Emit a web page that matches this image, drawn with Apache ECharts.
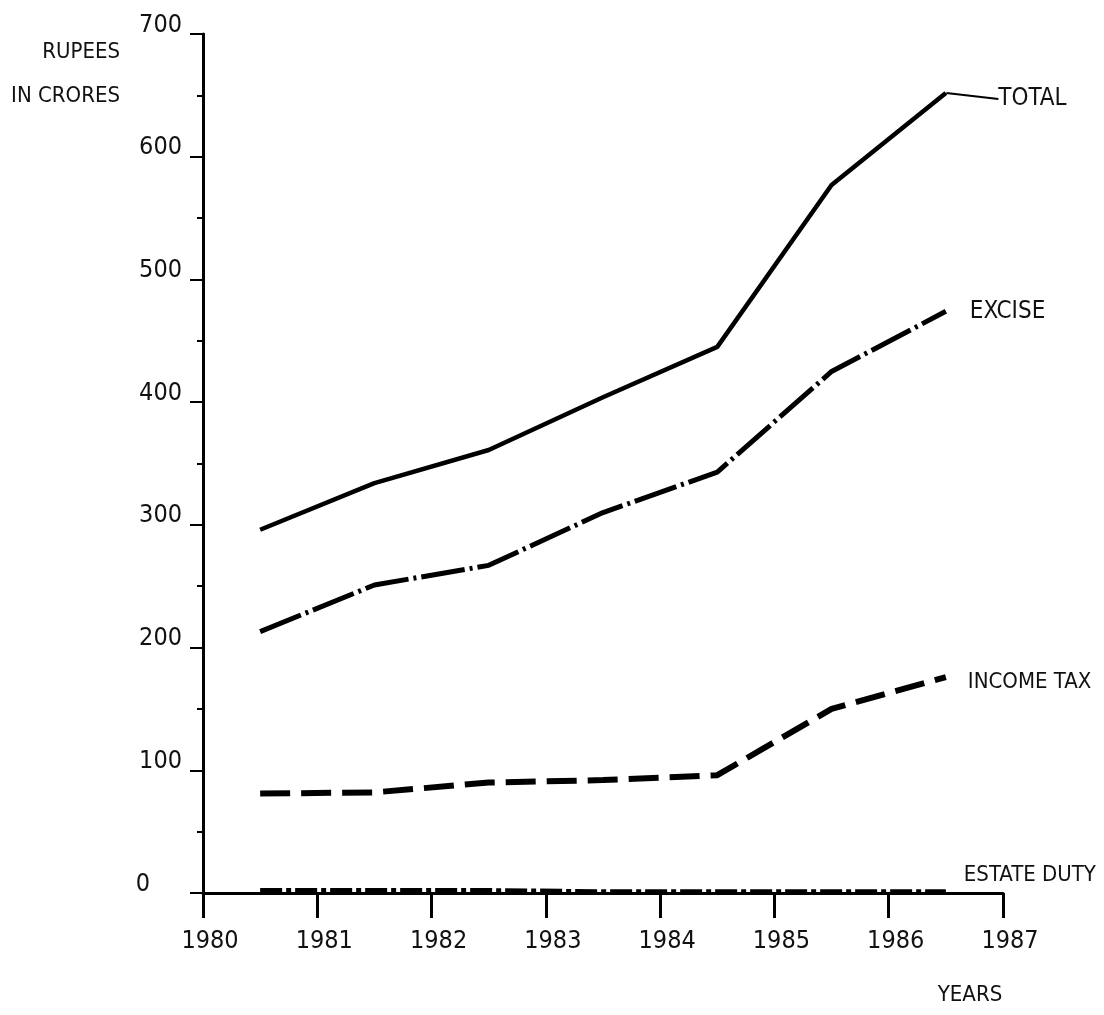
<!DOCTYPE html>
<html>
<head>
<meta charset="utf-8">
<script src="https://cdn.jsdelivr.net/npm/echarts@6/dist/echarts.min.js"></script>
<style>
html,body{margin:0;padding:0;background:#fff;}
#chart{width:1104px;height:1015px;}
</style>
</head>
<body>
<div id="chart"></div>
<script>
// ---- data ----
const pointYears = [1980.5, 1981.5, 1982.5, 1983.5, 1984.5, 1985.5, 1986.5];
const total      = [296, 334, 361, 404, 445, 577, 652];
const excise     = [213, 251, 267, 310, 343, 425, 474];
const incomeTax  = [81, 82, 90, 92, 96, 150, 176];
const estateDuty = [2, 2, 2, 1, 1, 1, 1];
const xTickLabels = ['1980','1981','1982','1983','1984','1985','1986','1987'];
const yTickLabels = ['0','100','200','300','400','500','600','700'];
const seriesNames = ['TOTAL', 'EXCISE', 'INCOME TAX', 'ESTATE DUTY'];

const FONT = "'Liberation Sans Narrow', 'DejaVu Sans Condensed', 'Roboto', sans-serif";
const pairs = arr => pointYears.map((x, i) => [x, arr[i]]);
const lastIdx = total.length - 1;

const chart = echarts.init(document.getElementById('chart'), null, {renderer: 'canvas'});

const option = {
  backgroundColor: '#ffffff',
  animation: false,
  grid: {left: 203, right: 101, top: 34, bottom: 122, containLabel: false},
  xAxis: {
    type: 'value', min: 1980, max: 1987, interval: 1,
    splitLine: {show: false},
    axisLine: {show: true, onZero: false, lineStyle: {color: '#000', width: 3}},
    axisTick: {show: true, inside: false, length: 25, lineStyle: {color: '#000', width: 3}},
    axisLabel: {
      show: true, margin: 36, color: '#111', fontSize: 25, fontFamily: FONT,
      padding: [0, 0, 0, 14],
      formatter: v => xTickLabels[Math.round(v - 1980)] || ''
    }
  },
  yAxis: {
    type: 'value', min: 0, max: 700, interval: 100,
    splitLine: {show: false},
    axisLine: {show: true, lineStyle: {color: '#000', width: 3}},
    axisTick: {show: true, length: 13, lineStyle: {color: '#000', width: 2}},
    minorTick: {show: true, splitNumber: 2, length: 6, lineStyle: {color: '#000', width: 2}},
    axisLabel: {
      show: true, margin: 21, color: '#111', fontSize: 25, fontFamily: FONT,
      verticalAlign: 'middle', padding: [0, 0, 18, 0],
      formatter: v => {
        const s = yTickLabels[Math.round(v / 100)] || '';
        return v === 0 ? '{z|' + s + '}' : s;
      },
      rich: {z: {fontSize: 25, fontFamily: FONT, color: '#111', padding: [0, 32, 0, 0]}}
    }
  },
  series: [
    {
      name: seriesNames[0], type: 'line',
      data: pairs(total).map((p, i) => i === lastIdx ? {
        value: p,
        label: {show: true, formatter: seriesNames[0], position: 'right', distance: 4,
                color: '#111', fontSize: 24, fontFamily: FONT}
      } : {value: p, label: {show: false}}),
      showSymbol: true, symbol: 'circle', symbolSize: 1,
      itemStyle: {color: 'rgba(0,0,0,0)'},
      z: 5,
      lineStyle: {color: '#000', width: 4.5, type: 'solid'},
      labelLayout: function () { return {dx: 48, dy: 6}; },
      labelLine: {show: true, smooth: false, minTurnAngle: 0, lineStyle: {color: '#000', width: 2}}
    },
    {
      name: seriesNames[1], type: 'line', data: pairs(excise),
      symbol: 'none', z: 5,
      lineStyle: {color: '#000', width: 5, type: [44, 5, 3, 5], cap: 'butt'},
      endLabel: {show: true, formatter: seriesNames[1], color: '#111', fontSize: 24,
                 fontFamily: FONT, distance: 24, offset: [0, 0]}
    },
    {
      name: seriesNames[2], type: 'line', data: pairs(incomeTax),
      symbol: 'none', z: 5,
      lineStyle: {color: '#000', width: 6, type: [30, 11], cap: 'butt'},
      endLabel: {show: true, formatter: seriesNames[2], color: '#111', fontSize: 22,
                 fontFamily: FONT, distance: 22, offset: [0, 5]}
    },
    {
      name: seriesNames[3], type: 'line', data: pairs(estateDuty),
      symbol: 'none', z: 6,
      lineStyle: {color: '#000', width: 5, type: [22, 4, 5, 4], cap: 'butt'},
      endLabel: {show: true, formatter: seriesNames[3], color: '#111', fontSize: 22,
                 fontFamily: FONT, distance: 18, offset: [0, -16]}
    }
  ],
  graphic: [
    {type: 'text', x: 120, y: 52, style: {text: 'RUPEES', fontSize: 22, fontFamily: FONT, fill: '#111', align: 'right', verticalAlign: 'middle'}},
    {type: 'text', x: 120, y: 96, style: {text: 'IN CRORES', fontSize: 22, fontFamily: FONT, fill: '#111', align: 'right', verticalAlign: 'middle'}},
    {type: 'text', x: 970, y: 995, style: {text: 'YEARS', fontSize: 22, fontFamily: FONT, fill: '#111', align: 'center', verticalAlign: 'middle'}}
  ]
};

chart.setOption(option);
</script>
</body>
</html>
